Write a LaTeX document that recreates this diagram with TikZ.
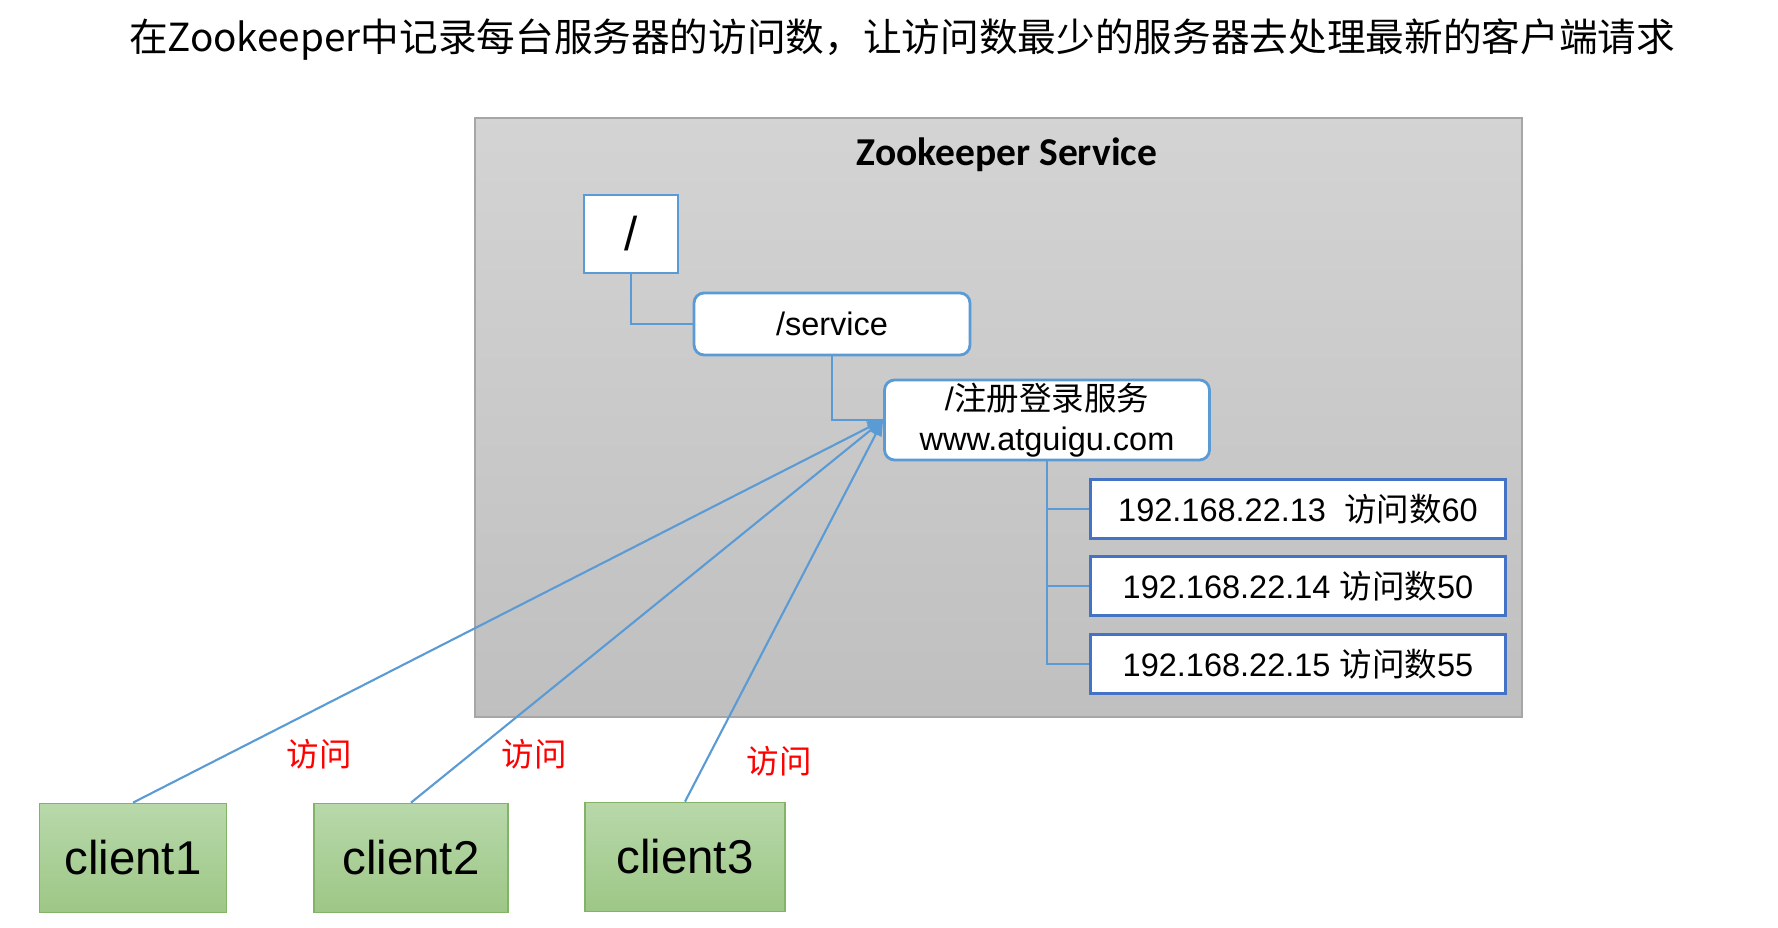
\documentclass[tikz,border=0pt]{standalone}
\usepackage{fontspec}
\setmainfont{Liberation Sans}
\newfontfamily\cjkfont{Noto Sans CJK SC}
\newfontfamily\titlefont{Carlito}
\usetikzlibrary{arrows.meta, positioning}
\definecolor{zkblue}{HTML}{5B9BD5}
\definecolor{ipblue}{HTML}{4472C4}
\definecolor{zkgreen}{HTML}{82B366}
\definecolor{greentop}{HTML}{B8D8AA}
\definecolor{greenbot}{HTML}{9DC786}

\begin{document}
\begin{tikzpicture}[x=0.02cm, y=-0.02cm,
  znode/.style={draw=zkblue, line width=1.6pt, fill=white, rounded corners=0.2cm,
    inner sep=0pt, font=\fontsize{18.5}{23}\selectfont, align=center},
  ipnode/.style={draw=ipblue, line width=1.6pt, fill=white, inner sep=0pt,
    minimum width=8.3cm, minimum height=1.18cm, font=\fontsize{18.5}{22}\selectfont},
  client/.style={draw=zkgreen, line width=1pt, top color=greentop,
    bottom color=greenbot, inner sep=0pt,
    minimum height=2.18cm, font=\fontsize{27}{30}\selectfont},
  treeline/.style={draw=zkblue, line width=0.8pt},
  visit/.style={draw=zkblue, line width=1.2pt, -{Triangle[length=9pt, width=7pt]}},
  visitlabel/.style={text=red, font=\cjkfont\fontsize{18.5}{22}\selectfont}]
\useasboundingbox (0,0) rectangle (1778,928);
\node (title) at (902,40) {\cjkfont\fontsize{22}{26}\selectfont 在Zookeeper中记录每台服务器的访问数，让访问数最少的服务器去处理最新的客户端请求};
\draw[draw=black!35, line width=0.8pt, top color=black!17, bottom color=black!25] (475,118) rectangle (1522,717);
\node (zk) at (1007,155) {\titlefont\bfseries\fontsize{22.5}{26}\selectfont Zookeeper Service};

\node[znode, rounded corners=0pt, minimum width=1.88cm, minimum height=1.56cm,
  font=\fontsize{27}{30}\selectfont] (root) at (631,234) {/};
\node[znode, minimum width=5.52cm, minimum height=1.24cm] (svc) at (832,324) {/service};
\node[znode, minimum width=6.5cm, minimum height=1.6cm] (reg) at (1047,420)
  {/{\cjkfont 注册登录服务}\\www.atguigu.com};
\node[ipnode] (ip1) at (1298,509) {192.168.22.13\ \ {\cjkfont 访问数}60};
\node[ipnode] (ip2) at (1298,586) {192.168.22.14 {\cjkfont 访问数}50};
\node[ipnode] (ip3) at (1298,664) {192.168.22.15 {\cjkfont 访问数}55};

\draw[treeline] (root.south) |- (svc.west);
\draw[treeline] (svc.south) |- (reg.west);
\foreach \i in {1,2,3}
  \draw[treeline] (reg.south) |- (ip\i.west);

\node[client, minimum width=3.74cm] (c1) at (133,858) {client1};
\node[client, minimum width=3.88cm] (c2) at (411,858) {client2};
\node[client, minimum width=4.0cm] (c3) at (685,857) {client3};

\foreach \c in {c1,c2,c3}
  \draw[visit] (\c.north) -- (reg.west);

\node[visitlabel] (v1) at (319,754) {访问};
\node[visitlabel] (v2) at (534,754) {访问};
\node[visitlabel] (v3) at (779,761) {访问};
\end{tikzpicture}
\end{document}
